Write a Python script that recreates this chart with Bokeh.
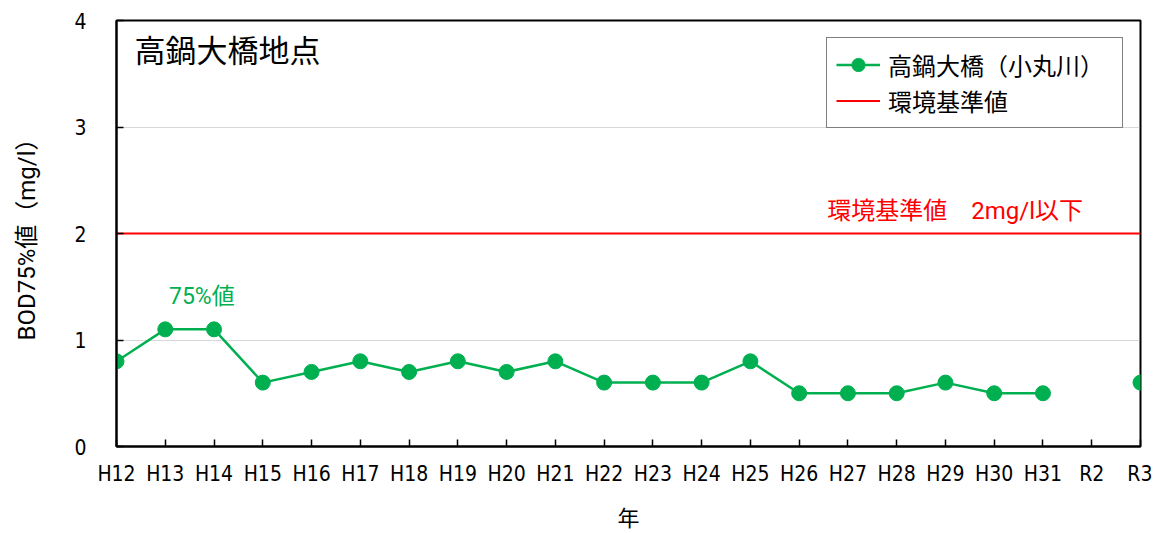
import numpy as np
from bokeh.plotting import figure
from bokeh.models import ColumnDataSource, Label, Legend, LegendItem, Range1d, FixedTicker
from bokeh.embed import file_html
from bokeh.resources import INLINE

years = ["H12", "H13", "H14", "H15", "H16", "H17", "H18", "H19", "H20", "H21",
         "H22", "H23", "H24", "H25", "H26", "H27", "H28", "H29", "H30", "H31",
         "R2", "R3"]
bod75 = [0.8, 1.1, 1.1, 0.6, 0.7, 0.8, 0.7, 0.8, 0.7, 0.8,
         0.6, 0.6, 0.6, 0.8, 0.5, 0.5, 0.5, 0.6, 0.5, 0.5,
         None, 0.6]
standard = 2.0
y_ticks = [0, 1, 2, 3, 4]

CJK = "Noto Sans CJK JP"
TICK = "'DejaVu Sans Condensed', Roboto, sans-serif"
MIX = "Roboto, 'Noto Sans CJK JP', sans-serif"
GREEN = "#00B050"

n = len(years)
xs = list(range(n))
ys = [np.nan if v is None else v for v in bod75]
src = ColumnDataSource(dict(x=xs, y=ys))

p = figure(width=1152, height=533, output_backend="svg", toolbar_location=None,
           x_range=Range1d(0, n - 1), y_range=Range1d(0, 4),
           min_border_left=116, min_border_right=12, min_border_top=20, min_border_bottom=86)
p.outline_line_color = "black"
p.outline_line_width = 2

p.xaxis.ticker = FixedTicker(ticks=xs)
p.xaxis.major_label_overrides = {i: y for i, y in enumerate(years)}
p.yaxis.ticker = FixedTicker(ticks=y_ticks)
for ax in (p.xaxis, p.yaxis):
    ax.axis_line_color = "black"
    ax.axis_line_width = 2
    ax.major_tick_in = 7
    ax.major_tick_out = 0
    ax.major_tick_line_color = "black"
    ax.major_tick_line_width = 1.5
    ax.minor_tick_line_color = None
    ax.major_label_text_font = TICK
    ax.major_label_text_font_size = "21px"
    ax.major_label_text_color = "black"
    ax.axis_label_text_font = MIX
    ax.axis_label_text_font_style = "normal"
    ax.axis_label_text_color = "black"
p.xaxis.major_label_standoff = 15
p.yaxis.major_label_standoff = 30
p.xaxis.axis_label = "年"
p.xaxis.axis_label_text_font_size = "22px"
p.xaxis.axis_label_standoff = 17
p.yaxis.axis_label = "BOD75%値（mg/l）"
p.yaxis.axis_label_text_font_size = "24px"
p.yaxis.axis_label_standoff = 30

p.xgrid.grid_line_color = None
p.ygrid.grid_line_color = "#b0b0b0"
p.ygrid.grid_line_dash = "1 1"
p.ygrid.grid_line_width = 1

std_line = p.line(x=[0, n - 1], y=[standard, standard], line_color="red", line_width=2)
ln = p.line("x", "y", source=src, line_color=GREEN, line_width=2.5)
sc = p.scatter("x", "y", source=src, size=15, fill_color=GREEN, line_color=GREEN)

legend = Legend(items=[LegendItem(label="高鍋大橋（小丸川）", renderers=[ln, sc]),
                       LegendItem(label="環境基準値", renderers=[std_line])],
                location=(710, 318))
legend.label_text_font = CJK
legend.label_text_font_size = "24px"
legend.label_text_color = "black"
legend.border_line_color = "black"
legend.border_line_width = 1.5
legend.background_fill_alpha = 1
legend.glyph_width = 44
legend.glyph_height = 33
legend.label_height = 33
legend.label_width = 225
legend.spacing = 1
legend.padding = 9
legend.margin = 0
legend.label_standoff = 8
p.add_layout(legend, "center")

p.add_layout(Label(x=18, y=398, x_units="screen", y_units="screen", text="高鍋大橋地点",
                   text_font=CJK, text_font_size="31px", text_color="black",
                   text_baseline="middle"))
p.add_layout(Label(x=17.2, y=2.21, text="環境基準値　2mg/l以下",
                   text_font=MIX, text_font_size="24px", text_color="red",
                   text_baseline="middle", text_align="center"))
p.add_layout(Label(x=1.75, y=1.41, text="75%値", text_font=MIX, text_font_size="23px",
                   text_color=GREEN, text_baseline="middle", text_align="center"))

open("out.html", "w").write(file_html(p, INLINE))
